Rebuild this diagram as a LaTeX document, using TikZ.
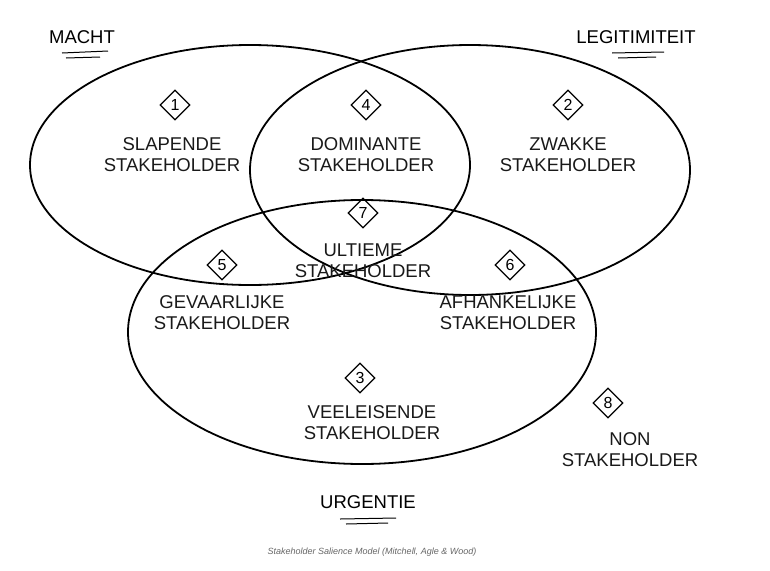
\documentclass[tikz,border=0pt]{standalone}
\usepackage{fontspec}
\setmainfont{Liberation Sans}
\usetikzlibrary{shapes.geometric}
\begin{document}
\begin{tikzpicture}[x=1pt,y=-1pt,
  ring/.style={draw=black,line width=1.8pt},
  lbl/.style={font=\fontsize{18.5}{21}\selectfont,align=center,text=black!90},
  num/.style={draw,line width=1.3pt,diamond,minimum size=30pt,inner sep=0pt,font=\fontsize{16}{16}\selectfont},
  ttl/.style={font=\fontsize{18.5}{20}\selectfont}]
\useasboundingbox (0,0) rectangle (770,570);
\draw[ring] (250,165) ellipse [x radius=220,y radius=120];
\draw[ring] (470,170) ellipse [x radius=220,y radius=125];
\draw[ring] (362,332) ellipse [x radius=234,y radius=132];
\node[ttl] (m) at (82,37) {MACHT};
\draw[line width=1pt] (62,53)--(108,51) (66,58)--(100,57);
\node[ttl] (l) at (636,37) {LEGITIMITEIT};
\draw[line width=1pt] (612,53)--(664,52) (618,58)--(656,57);
\node[ttl] (u) at (368,502) {URGENTIE};
\draw[line width=1pt] (340,519)--(396,518) (346,524)--(388,523);
\node[num] (n1) at (175,105) {1};
\node[num] (n4) at (366,105) {4};
\node[num] (n2) at (568,105) {2};
\node[num] (n7) at (363,213) {7};
\node[num] (n5) at (222,265) {5};
\node[num] (n6) at (510,265) {6};
\node[num] (n3) at (360,378) {3};
\node[num] (n8) at (608,403) {8};
\node[lbl] (t1) at (172,155) {SLAPENDE\\STAKEHOLDER};
\node[lbl] (t4) at (366,155) {DOMINANTE\\STAKEHOLDER};
\node[lbl] (t2) at (568,155) {ZWAKKE\\STAKEHOLDER};
\node[lbl] (t7) at (363,261) {ULTIEME\\STAKEHOLDER};
\node[lbl] (t5) at (222,313) {GEVAARLIJKE\\STAKEHOLDER};
\node[lbl] (t6) at (508,313) {AFHANKELIJKE\\STAKEHOLDER};
\node[lbl] (t3) at (372,423) {VEELEISENDE\\STAKEHOLDER};
\node[lbl] (t8) at (630,450) {NON\\STAKEHOLDER};
\node[font=\itshape\fontsize{9}{10}\selectfont,text=black!60] (cap) at (372,552) {Stakeholder Salience Model (Mitchell, Agle \& Wood)};
\end{tikzpicture}
\end{document}
